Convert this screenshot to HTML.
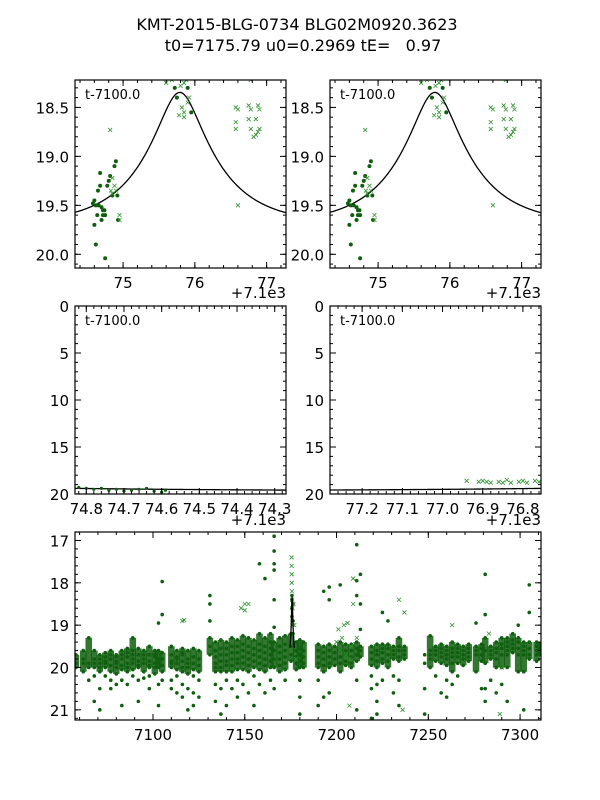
<!DOCTYPE html>
<html><head><meta charset="utf-8"><style>
html,body{margin:0;padding:0;background:#fff}
svg{display:block;font-family:"DejaVu Sans","Liberation Sans",sans-serif}
</style></head><body>
<svg id="fig" width="600" height="800" viewBox="0 0 600 800">
<text x="297" y="30" font-size="16" text-anchor="middle">KMT-2015-BLG-0734 BLG02M0920.3623</text>
<text x="303" y="51" font-size="16" text-anchor="middle" style="white-space:pre" xml:space="preserve">t0=7175.79 u0=0.2969 tE=   0.97</text>
</svg>
<script>
// ---- model parameters ----
const t0 = 7175.79, u0 = 0.2969, tE = 0.97, mBase = 19.70;
// ---- zoom panel data (t - 7100) ----
const zoomDotT = [74.60,74.62,74.65,74.68,74.70,74.72,74.68,74.64,74.60,74.62,74.75,74.78,74.80,74.82,74.85,74.88,74.90,74.92,74.93,74.70,74.75,75.72,75.75,75.90,75.95,74.66,74.72,74.58,74.74];
const zoomDotM = [19.45,19.50,19.35,19.30,19.52,19.55,19.17,19.60,19.70,19.90,20.04,19.30,19.25,19.20,19.40,19.10,19.05,19.40,19.65,19.65,19.60,18.30,18.40,18.30,18.55,19.50,19.60,19.48,19.55];
const zoomCrossT = [74.82,74.85,74.83,74.85,74.95,75.60,75.68,75.80,75.85,75.88,75.82,75.85,75.90,75.85,75.78,75.92,76.57,76.60,76.57,76.57,76.75,76.78,76.88,76.90,76.75,76.85,76.78,76.85,76.88,76.90,76.82,76.78,76.95,76.60,74.95,74.90,74.88];
const zoomCrossM = [18.73,19.22,19.35,19.38,19.60,18.25,18.22,18.28,18.25,18.22,18.50,18.55,18.45,18.60,18.58,18.40,18.50,18.52,18.65,18.72,18.48,18.52,18.48,18.52,18.62,18.62,18.72,18.78,18.75,18.72,18.80,18.22,18.20,19.50,19.65,19.35,19.30];
const z3DotT = [74.82,74.80,74.78,74.76,74.74,74.72,74.70,74.68,74.66,74.64,74.62,74.60,74.59];
const z3DotM = [19.3,19.4,19.5,19.4,19.6,19.5,19.7,19.6,19.5,19.4,19.7,19.8,19.6];
const z4CrossT = [76.94,76.91,76.90,76.89,76.88,76.86,76.85,76.84,76.83,76.81,76.80,76.79,76.77,76.76];
const z4CrossM = [18.6,18.7,18.6,18.7,18.8,18.7,18.8,18.5,18.8,18.7,18.6,18.8,18.6,18.7];
// ---- full light curve: nightly columns ----
const fullT = [7058,7062,7065,7068,7071,7074,7077,7080,7083,7086,7089,7092,7095,7098,7101,7103,7105,7110,7113,7116,7119,7122,7125,7131,7134,7137,7140,7143,7146,7149,7152,7155,7158,7161,7164,7166,7169,7172,7175.2,7175.7,7176.3,7178,7180,7182,7190,7193,7196,7199,7202,7205,7208,7211,7213,7219,7222,7225,7228,7231,7234,7237,7248,7251,7254,7257,7260,7263,7266,7269,7272,7276,7279,7281,7284,7287,7290,7293,7296,7299,7302,7305,7309,7311];
const fullM = [[19.7,19.9,20.0],[19.6,19.8,20.1,19.9],[19.3,19.9,20.0,20.3],[19.6,19.8,20.0,19.9,20.2,20.8],[19.7,19.9,20.0,19.8,20.1,20.5,21.0],[19.65,19.85,20.0,19.9,20.2,19.75],[19.6,19.8,19.95,20.1,20.3,19.7,20.5],[19.7,19.85,20.0,19.9,20.15,19.75,20.4],[19.6,19.8,19.95,20.05,19.7,20.3,20.9],[19.55,19.75,19.9,20.0,20.1,19.65,20.4],[19.3,19.6,19.8,19.9,20.05,20.2,19.7],[19.55,19.7,19.85,20.0,19.95,20.3,20.8],[19.6,19.8,19.9,20.1,19.7,20.25],[19.5,19.7,19.85,20.0,19.95,20.2,20.5],[19.6,19.75,19.9,20.0,20.15,19.7],[18.95,19.6,19.8,19.9,20.0,20.4,20.9],[17.97,18.75,19.65,19.8,19.95,20.1,20.3],[19.5,19.7,19.85,20.0,19.9,20.3,20.5],[19.6,19.75,19.9,20.05,19.8,20.2,20.6],[19.55,19.7,19.85,20.0,20.1,19.65,20.4,20.7],[19.6,19.8,19.9,20.0,20.15,20.5,21.0],[19.55,19.75,19.9,20.05,20.2,20.6,20.9],[19.6,19.8,19.95,20.1,20.3,20.7],[18.3,18.5,18.9,19.3,19.5,19.7],[19.4,19.6,19.75,19.9,20.0,20.1,20.4,20.8],[19.35,19.55,19.7,19.85,20.0,20.1,20.5,21.1],[19.4,19.55,19.7,19.85,19.95,20.1,20.3,20.9],[19.3,19.5,19.65,19.8,19.95,20.1,20.5],[19.35,19.5,19.65,19.8,19.9,20.05,20.3,20.7],[19.25,19.45,19.6,19.75,19.9,20.05,20.4],[19.3,19.5,19.65,19.8,19.95,20.1,20.6],[19.35,19.55,19.7,19.85,20.0,20.2,20.9],[17.55,19.2,19.45,19.6,19.75,19.9,20.05,20.4],[17.9,19.3,19.5,19.65,19.8,19.95,20.1,20.6],[19.2,19.4,19.55,19.7,19.85,20.0,20.3],[16.9,17.25,17.55,17.7,18.4,19.05,19.4,19.6,19.8,20.0,20.5],[19.3,19.5,19.65,19.8,19.95,20.1],[19.25,19.45,19.6,19.75,19.9,20.05,20.3],[19.2,19.5,19.7,19.85],[18.3,18.4,18.6,18.8],[18.5,18.9,19.2],[19.4,19.6,19.75,19.9,20.05],[19.35,19.55,19.7,19.85,20.0,20.3,20.7,21.1],[19.4,19.6,19.75,19.9,20.0],[19.45,19.6,19.75,19.9,20.0,20.3,20.9],[18.2,19.5,19.65,19.8,19.95,20.1,20.7],[18.1,18.4,19.45,19.6,19.75,19.9,20.0,20.6],[19.5,19.65,19.8,19.95],[18.05,19.4,19.6,19.75,19.9,20.1],[19.45,19.6,19.7,19.85,19.95],[19.45,19.6,19.75,19.9,20.0],[17.1,17.95,18.3,19.4,19.55,19.7,19.85,20.3,21.0],[17.8,18.5,19.1,19.5,19.6,19.75],[19.5,19.65,19.8,19.95,20.2,20.5,21.2],[19.45,19.6,19.7,19.85,20.0,20.4,20.8,21.1],[18.7,19.45,19.55,19.65,19.8,19.9,20.3],[18.9,19.45,19.55,19.7,19.85,20.0],[19.5,19.6,19.7,19.8,20.2,20.6],[19.3,19.5,19.6,19.75,19.85,20.3,20.9],[19.5,19.6,19.7,19.8],[19.7,19.9,20.5,21.1],[19.25,19.6,19.7,19.8,20.0],[19.5,19.6,19.7,19.85,20.2],[19.45,19.55,19.65,19.75,19.9,20.6],[19.5,19.6,19.7,19.8,19.95,20.3,20.7],[19.4,19.55,19.65,19.75,19.9,20.1,20.4],[19.45,19.55,19.65,19.75,19.9,20.2],[19.5,19.6,19.7,19.8,19.95],[19.45,19.55,19.65,19.75,19.85],[18.95,19.5,19.6,19.7,20.1],[19.45,19.55,19.7,19.85,20.5],[17.8,18.75,19.3,19.6,19.9,20.5,20.8],[19.5,19.6,19.7,19.8,20.3],[19.4,19.55,19.65,19.8,20.0,20.6],[19.3,19.45,19.55,19.7,20.0,20.4],[19.3,19.4,19.5,19.6,19.7,20.0,20.8],[19.2,19.35,19.45,19.55,19.65],[19.0,19.3,19.4,19.55,19.7,20.1],[19.4,19.5,19.6,19.7,20.1,21.0],[18.05,18.7,19.4,19.55,19.7,19.8],[19.4,19.5,19.6,19.7,19.85],[19.45,19.55,19.7]];
const fullCrossT = [7148,7150,7150,7152,7116,7117,7175.5,7175.5,7175.6,7175.6,7175.7,7175.8,7175.9,7176,7177,7200,7202,7203,7204,7205,7206,7207,7208,7209,7209,7201,7211,7234,7237,7263,7283,7290,7289,7207,7236,7178,7176.5];
const fullCrossM = [18.6,18.5,18.65,18.5,18.9,18.88,17.4,17.6,17.8,18.0,18.2,18.4,18.6,19.0,19.0,19.4,19.6,19.3,19.0,19.7,18.95,19.8,19.5,17.9,18.5,19.1,19.3,18.4,18.7,19.0,19.2,20.0,21.1,20.9,21.0,19.8,18.5];

const SVGNS = "http://www.w3.org/2000/svg";
const fig = document.getElementById('fig');
function mk(tag, attrs, parent){const e=document.createElementNS(SVGNS,tag);for(const k in attrs)e.setAttribute(k,attrs[k]);(parent||fig).appendChild(e);return e;}
function modelMag(t){const u=Math.sqrt(u0*u0+((t-t0)/tE)**2);const A=(u*u+2)/(u*Math.sqrt(u*u+4));return mBase-2.5*Math.log10(A);}
let clipId=0;
function panel(o){
  const g=mk('g',{});
  
  
  const X=v=>o.x0+(v-o.xmin)/(o.xmax-o.xmin)*o.w;
  const Y=v=>o.y0+(v-o.ymin)/(o.ymax-o.ymin)*o.h;
  mk('rect',{x:o.x0,y:o.y0,width:o.w,height:o.h,fill:'#fff'},g);
  const id='c'+(clipId++);
  const cp=mk('clipPath',{id:id},g);mk('rect',{x:o.x0,y:o.y0,width:o.w,height:o.h},cp);
  const d=mk('g',{'clip-path':'url(#'+id+')'},g);
  return {g,d,X,Y,o};
}
function finish(p,xt,xminor,yt,yminor,xfmt,yfmt){
  const {g,X,Y,o}=p;
  const tk=mk('g',{stroke:'#000','stroke-width':1},g);
  const lo=Math.min(o.xmin,o.xmax),hi=Math.max(o.xmin,o.xmax);
  for(let v=Math.ceil(lo/xminor-1e-6)*xminor;v<=hi+1e-9;v+=xminor){const x=X(v);if(x<o.x0||x>o.x0+o.w)continue;mk('line',{x1:x,x2:x,y1:o.y0+o.h,y2:o.y0+o.h-3},tk);mk('line',{x1:x,x2:x,y1:o.y0,y2:o.y0+3},tk);}
  for(let v=Math.ceil(o.ymin/yminor-1e-6)*yminor;v<=o.ymax+1e-9;v+=yminor){const y=Y(v);mk('line',{x1:o.x0,x2:o.x0+3,y1:y,y2:y},tk);mk('line',{x1:o.x0+o.w,x2:o.x0+o.w-3,y1:y,y2:y},tk);}
  xt.forEach(v=>{const x=X(v);mk('line',{x1:x,x2:x,y1:o.y0+o.h,y2:o.y0+o.h-6},tk);mk('line',{x1:x,x2:x,y1:o.y0,y2:o.y0+6},tk);
    const t=mk('text',{x:x,y:o.y0+o.h+20,'font-size':15,'text-anchor':'middle'},g);t.textContent=xfmt(v);
    
    });
  yt.forEach(v=>{const y=Y(v);mk('line',{x1:o.x0,x2:o.x0+6,y1:y,y2:y},tk);mk('line',{x1:o.x0+o.w,x2:o.x0+o.w-6,y1:y,y2:y},tk);
    const t=mk('text',{x:o.x0-6,y:y+6,'font-size':15,'text-anchor':'end'},g);t.textContent=yfmt(v);
    
    });
  mk('rect',{x:o.x0,y:o.y0,width:o.w,height:o.h,fill:'none',stroke:'#000','stroke-width':1.2},g);
}
const DOT='#0f5f0f', CROSS='#2f922f';
function dots(p,ts,ms,r){ts.forEach((t,i)=>{const c=mk('circle',{cx:p.X(t),cy:p.Y(ms[i]),r:r,fill:DOT},p.d);
  
  });}
function crosses(p,ts,ms,s){ts.forEach((t,i)=>{const x=p.X(t),y=p.Y(ms[i]);const c=mk('path',{d:`M${x-s} ${y-s}L${x+s} ${y+s}M${x-s} ${y+s}L${x+s} ${y-s}`,stroke:CROSS,'stroke-width':0.8,fill:'none'},p.d);
  
  });}
function model(p,a,b,off){let s='';const n=300;for(let i=0;i<=n;i++){const t=a+(b-a)*i/n;s+=(i?'L':'M')+p.X(t-off).toFixed(2)+' '+p.Y(modelMag(t)).toFixed(2);}
  const l=mk('path',{d:s,stroke:'#000','stroke-width':1.3,fill:'none'},p.d);
  
  }
function label(p){const t=mk('text',{x:p.o.x0+10,y:p.o.y0+19,'font-size':13},p.g);t.textContent='t-7100.0';
  
  }
function offsetText(x,y){const t=mk('text',{x:x,y:y,'font-size':15,'text-anchor':'end'});t.textContent='+7.1e3';
  
  }
const f1=v=>v.toFixed(1), f0=v=>String(Math.round(v));

offsetText(541,298);offsetText(286,298);
[75,330].forEach((x0,k)=>{
  const p=panel({name:k?'zoom-panel-right':'zoom-panel-left',x0:x0,y0:80,w:211,h:188,xmin:74.33,xmax:77.27,ymin:18.22,ymax:20.14});
  model(p,7174.2,7177.4,7100);dots(p,zoomDotT,zoomDotM,2);crosses(p,zoomCrossT,zoomCrossM,2);label(p);
  finish(p,[75,76,77],0.2,[18.5,19,19.5,20],0.1,f0,f1);
});
offsetText(286,525);offsetText(541,525);
{const p=panel({name:'zoom-panel-lower-left',x0:75,y0:306,w:211,h:188,xmin:74.83,xmax:74.27,ymin:0,ymax:20});
 model(p,7174.2,7175.0,7100);dots(p,z3DotT,z3DotM,1.6);label(p);
 finish(p,[74.8,74.7,74.6,74.5,74.4,74.3],0.02,[0,5,10,15,20],1,f1,f0);}
{const p=panel({name:'zoom-panel-lower-right',x0:330,y0:306,w:211,h:188,xmin:77.28,xmax:76.755,ymin:0,ymax:20});
 model(p,7176.7,7177.4,7100);crosses(p,z4CrossT,z4CrossM,2);label(p);
 finish(p,[77.2,77.1,77.0,76.9,76.8],0.02,[0,5,10,15,20],1,f1,f0);}
{const p=panel({name:'full-lightcurve-panel',x0:75,y0:532,w:466,h:188,xmin:7057.5,xmax:7311.4,ymin:16.8,ymax:21.24});
 fullT.forEach((t,i)=>{const ms=fullM[i];
   const core=ms.filter(m=>m>=19.2&&m<=20.15);
   if(core.length>=3){const lo=Math.min(...core),hi=Math.max(...core);
     const r=mk('rect',{x:p.X(t)-3.3,y:p.Y(lo),width:6.6,height:p.Y(hi)-p.Y(lo),fill:DOT,opacity:0.85},p.d);
     
     }
   dots(p,ms.map(()=>t),ms,1.8);});
 crosses(p,fullCrossT,fullCrossM,2);
 model(p,7174.5,7177.1,0);
 finish(p,[7100,7150,7200,7250,7300],10,[17,18,19,20,21],0.2,f0,f0);}
</script>
</body></html>
